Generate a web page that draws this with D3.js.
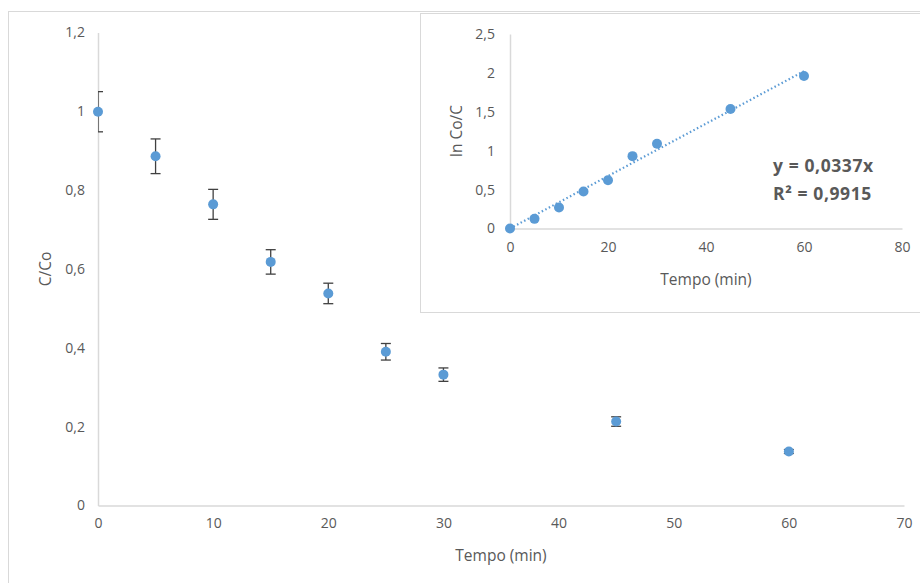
<!DOCTYPE html>
<html><head><meta charset="utf-8">
<script src="https://cdn.jsdelivr.net/npm/d3@7"></script>
<style>
body{margin:0;background:#fff;}
text{font-family:"Open Sans",Lato,sans-serif;fill:#595959;}
</style></head>
<body><svg id="c" width="920" height="583"></svg>
<script>
// Main chart data
const times = [0, 5, 10, 15, 20, 25, 30, 45, 60];
const ratio = [0.999, 0.886, 0.764, 0.618, 0.538, 0.390, 0.332, 0.213, 0.137];
const errors = [0.051, 0.044, 0.038, 0.031, 0.026, 0.021, 0.017, 0.012, 0.005];
const mainXTicks = [0, 10, 20, 30, 40, 50, 60, 70];
const mainYTicks = [0, 0.2, 0.4, 0.6, 0.8, 1, 1.2];
// Inset data
const lnRatio = [0.0, 0.124, 0.27, 0.476, 0.62, 0.93, 1.09, 1.536, 1.96];
const slope = 0.0337;
const trendRange = [0, 60];
const insetXTicks = [0, 20, 40, 60, 80];
const insetYTicks = [0, 0.5, 1, 1.5, 2, 2.5];
const eqLines = ["y = 0,0337x", "R² = 0,9915"];

const fmt = v => String(v).replace('.', ',');
const blue = "#5B9BD5", axisCol = "#d9d9d9", borderCol = "#d9d9d9";
const tickFs = "14px", labelFs = "15.5px";
const svg = d3.select("#c");

// outer chart border
svg.append("rect").attr("x", 8.5).attr("y", 11.5).attr("width", 940).attr("height", 600)
  .attr("fill", "#fff").attr("stroke", borderCol);

// main scales
const x = d3.scaleLinear().domain([0, 70]).range([98, 904]);
const y = d3.scaleLinear().domain([0, 1.2]).range([505.5, 32.5]);

svg.append("clipPath").attr("id", "clipMain").append("rect")
  .attr("x", 98).attr("y", 20).attr("width", 820).attr("height", 490);

const xAx = svg.append("g").attr("transform", "translate(0,505.5)")
  .call(d3.axisBottom(x).tickValues(mainXTicks).tickSize(0).tickPadding(13).tickFormat(fmt));
xAx.select(".domain").attr("stroke", axisCol).attr("stroke-width", 1.5);
xAx.selectAll("text").style("font-size", tickFs);

const yAx = svg.append("g").attr("transform", "translate(98,0)")
  .call(d3.axisLeft(y).tickValues(mainYTicks).tickSize(0).tickPadding(13).tickFormat(fmt));
yAx.select(".domain").attr("stroke", axisCol).attr("stroke-width", 1.5);
yAx.selectAll("text").style("font-size", tickFs);

svg.append("text").attr("x", 501).attr("y", 561).attr("text-anchor", "middle")
  .style("font-size", labelFs).text("Tempo  (min)");
svg.append("text").attr("transform", "translate(51,269) rotate(-90)").attr("text-anchor", "middle")
  .style("font-size", labelFs).text("C/Co");

// error bars
const eb = svg.append("g").attr("clip-path", "url(#clipMain)").attr("stroke", "#404040").attr("stroke-width", 1.3);
times.forEach((t, i) => {
  const cx = x(t), y1 = y(ratio[i] + errors[i]), y2 = y(ratio[i] - errors[i]);
  eb.append("line").attr("x1", cx).attr("x2", cx).attr("y1", y1).attr("y2", y2);
  eb.append("line").attr("x1", cx - 5).attr("x2", cx + 5).attr("y1", y1).attr("y2", y1);
  eb.append("line").attr("x1", cx - 5).attr("x2", cx + 5).attr("y1", y2).attr("y2", y2);
});
svg.append("g").selectAll("circle").data(times).join("circle")
  .attr("cx", d => x(d)).attr("cy", (d, i) => y(ratio[i])).attr("r", 5).attr("fill", blue);

// inset box
svg.append("rect").attr("x", 420.5).attr("y", 13.5).attr("width", 520).attr("height", 299)
  .attr("fill", "#fff").attr("stroke", borderCol);

const ix = d3.scaleLinear().domain([0, 80]).range([510, 902]);
const iy = d3.scaleLinear().domain([0, 2.5]).range([228.5, 34]);

const ixAx = svg.append("g").attr("transform", "translate(0,228.5)")
  .call(d3.axisBottom(ix).tickValues(insetXTicks).tickSize(0).tickPadding(14).tickFormat(fmt));
ixAx.select(".domain").attr("stroke", axisCol).attr("stroke-width", 1.5);
ixAx.selectAll("text").style("font-size", tickFs);

const iyAx = svg.append("g").attr("transform", "translate(510,0)")
  .call(d3.axisLeft(iy).tickValues(insetYTicks).tickSize(0).tickPadding(15).tickFormat(fmt));
iyAx.select(".domain").attr("stroke", axisCol).attr("stroke-width", 1.5);
iyAx.selectAll("text").style("font-size", tickFs);

svg.append("text").attr("x", 706).attr("y", 285).attr("text-anchor", "middle")
  .style("font-size", labelFs).text("Tempo  (min)");
svg.append("text").attr("transform", "translate(462,131) rotate(-90)").attr("text-anchor", "middle")
  .style("font-size", labelFs).text("ln Co/C");

// trendline
svg.append("line").attr("x1", ix(trendRange[0])).attr("y1", iy(slope * trendRange[0]))
  .attr("x2", ix(trendRange[1])).attr("y2", iy(slope * trendRange[1]))
  .attr("stroke", blue).attr("stroke-width", 2.2).attr("stroke-dasharray", "1.5,2.5");

svg.append("g").selectAll("circle").data(times).join("circle")
  .attr("cx", d => ix(d)).attr("cy", (d, i) => iy(lnRatio[i])).attr("r", 5).attr("fill", blue);

svg.append("g").selectAll("text").data(eqLines).join("text")
  .attr("x", 773).attr("y", (d, i) => 171.5 + i * 28.5)
  .style("font-size", "17.5px").style("font-weight", "bold").style("letter-spacing", "0.6px")
  .style("fill", "#595959")
  .text(d => d);
</script></body></html>
